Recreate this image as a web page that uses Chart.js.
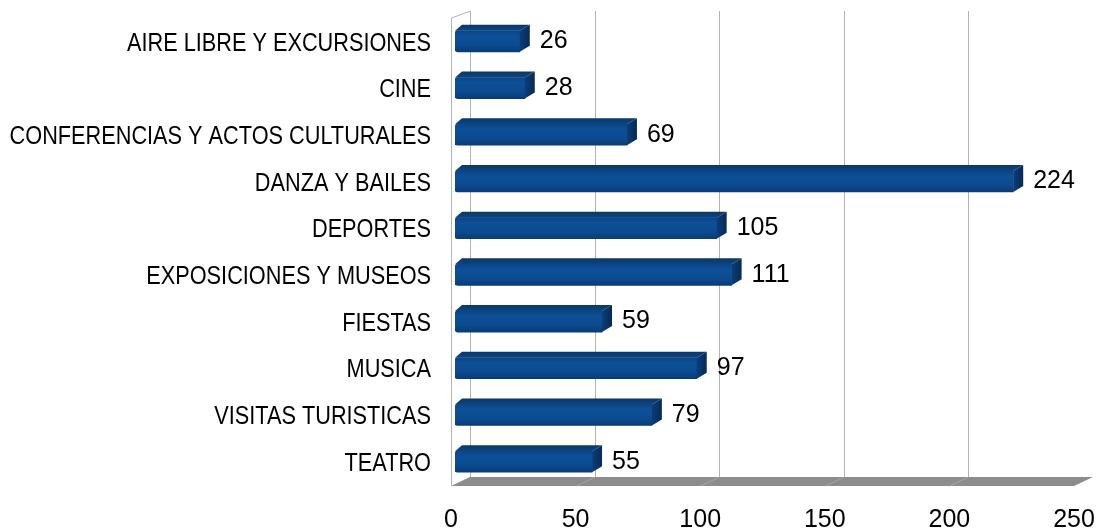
<!DOCTYPE html>
<html>
<head>
<meta charset="utf-8">
<script src="https://cdn.jsdelivr.net/npm/chart.js@4/dist/chart.umd.min.js"></script>
<style>
html,body{margin:0;padding:0;background:#fff;}
#wrap{width:1096px;height:530px;}
</style>
</head>
<body>
<div id="wrap"><canvas id="c" width="1096" height="530"></canvas></div>
<script>
const categories = [
  'AIRE LIBRE Y EXCURSIONES',
  'CINE',
  'CONFERENCIAS Y ACTOS CULTURALES',
  'DANZA Y BAILES',
  'DEPORTES',
  'EXPOSICIONES Y MUSEOS',
  'FIESTAS',
  'MUSICA',
  'VISITAS TURISTICAS',
  'TEATRO'
];
const values = [26, 28, 69, 224, 105, 111, 59, 97, 79, 55];
const xTicks = [0, 50, 100, 150, 200, 250];

const DEPTH_X = 10, DEPTH_Y = 6;        // bar depth
const BACK_DX = 15, FRONT_DX = -4;      // wall / floor offsets relative to bar scale
const GRID = '#b3b3b3';
const NARROW = 0.835;                   // horizontal condensing of category labels

function frontGradient(ctx, top, bottom) {
  const g = ctx.createLinearGradient(0, top, 0, bottom);
  g.addColorStop(0, '#0a4585');
  g.addColorStop(0.25, '#0d5098');
  g.addColorStop(0.7, '#0b4a8e');
  g.addColorStop(1, '#083c75');
  return g;
}

const scene3d = {
  id: 'scene3d',
  beforeDatasetsDraw(chart) {
    const {ctx, chartArea: a, scales: {x, y}} = chart;
    const fx = v => x.getPixelForValue(v) + FRONT_DX;
    const bx = v => x.getPixelForValue(v) + BACK_DX;
    const backTop = a.top - 7, frontTop = a.top;
    const floorBack = a.bottom - 8, floorFront = a.bottom + 1;
    ctx.save();
    // floor
    ctx.beginPath();
    ctx.moveTo(fx(0), floorFront);
    ctx.lineTo(bx(0), floorBack);
    ctx.lineTo(bx(250), floorBack);
    ctx.lineTo(fx(250), floorFront);
    ctx.closePath();
    ctx.fillStyle = '#8c8c8c';
    ctx.fill();
    ctx.lineWidth = 1;
    ctx.strokeStyle = '#a6a6a6';
    xTicks.slice(1, -1).forEach(v => {
      ctx.beginPath();
      ctx.moveTo(Math.round(bx(v)) + 0.5, floorBack);
      ctx.lineTo(Math.round(fx(v)) + 0.5, floorFront);
      ctx.stroke();
    });
    // back vertical gridlines
    ctx.strokeStyle = GRID;
    xTicks.slice(0, -1).forEach(v => {
      const px = Math.round(bx(v)) + 0.5;
      ctx.beginPath();
      ctx.moveTo(px, backTop);
      ctx.lineTo(px, floorBack);
      ctx.stroke();
    });
    // left wall front edge + top diagonal
    const lf = Math.round(fx(0)) + 0.5;
    ctx.beginPath();
    ctx.moveTo(lf, floorFront);
    ctx.lineTo(lf, frontTop);
    ctx.lineTo(Math.round(bx(0)) + 0.5, backTop);
    ctx.stroke();
    // category labels (condensed)
    ctx.fillStyle = '#000';
    ctx.font = '26px "Liberation Sans", Arial, sans-serif';
    ctx.textAlign = 'right';
    ctx.textBaseline = 'middle';
    categories.forEach((lab, i) => {
      ctx.save();
      ctx.translate(a.left - 24, y.getPixelForValue(i) + 2);
      ctx.scale(NARROW, 1);
      ctx.fillText(lab, 0, 0);
      ctx.restore();
    });
    ctx.restore();
  },
  afterDatasetsDraw(chart) {
    const {ctx} = chart;
    const meta = chart.getDatasetMeta(0);
    ctx.save();
    meta.data.forEach((bar, i) => {
      const p = bar.getProps(['x', 'y', 'base', 'height'], true);
      const x0 = p.base, x1 = p.x;
      const top = p.y - p.height / 2, bot = p.y + p.height / 2;
      // top face
      ctx.beginPath();
      ctx.moveTo(x0, top);
      ctx.lineTo(x0 + DEPTH_X * 0.7, top - DEPTH_Y);
      ctx.lineTo(x1 + DEPTH_X, top - DEPTH_Y);
      ctx.lineTo(x1, top);
      ctx.closePath();
      const gt = ctx.createLinearGradient(0, top - DEPTH_Y, 0, top);
      gt.addColorStop(0, '#0a3768');
      gt.addColorStop(1, '#0c4580');
      ctx.fillStyle = gt;
      ctx.fill();
      // side face
      ctx.beginPath();
      ctx.moveTo(x1, top);
      ctx.lineTo(x1 + DEPTH_X, top - DEPTH_Y);
      ctx.lineTo(x1 + DEPTH_X, bot - DEPTH_Y);
      ctx.lineTo(x1, bot);
      ctx.closePath();
      const gs = ctx.createLinearGradient(x1, 0, x1 + DEPTH_X, 0);
      gs.addColorStop(0, '#0a3e78');
      gs.addColorStop(1, '#072a55');
      ctx.fillStyle = gs;
      ctx.fill();
      // value label
      ctx.fillStyle = '#000';
      ctx.font = '25px "Liberation Sans", Arial, sans-serif';
      ctx.textAlign = 'left';
      ctx.textBaseline = 'middle';
      ctx.fillText(String(values[i]), x1 + DEPTH_X + 10, p.y);
    });
    ctx.restore();
  }
};

new Chart(document.getElementById('c'), {
  type: 'bar',
  data: {
    labels: categories,
    datasets: [{
      data: values,
      barThickness: 21,
      borderWidth: 0,
      borderRadius: {topLeft: 3, bottomLeft: 3, topRight: 0, bottomRight: 0},
      borderSkipped: false,
      backgroundColor(context) {
        const chart = context.chart;
        if (!chart.chartArea || context.dataIndex === undefined) return '#0b4a8c';
        const cy = chart.scales.y.getPixelForValue(context.dataIndex);
        return frontGradient(chart.ctx, cy - 10.5, cy + 10.5);
      }
    }]
  },
  options: {
    indexAxis: 'y',
    responsive: false,
    animation: false,
    devicePixelRatio: 1,
    layout: {padding: {top: 18, right: 18, bottom: 0, left: 0}},
    plugins: {legend: {display: false}, tooltip: {enabled: false}},
    scales: {
      x: {
        type: 'linear',
        min: 0,
        max: 250,
        afterBuildTicks(s) { s.ticks = xTicks.map(v => ({value: v})); },
        grid: {display: false, drawTicks: false},
        border: {display: false},
        ticks: {
          color: '#000',
          padding: 20,
          labelOffset: FRONT_DX,
          maxRotation: 0,
          font: {family: '"Liberation Sans", Arial, sans-serif', size: 25}
        },
        afterFit(s) { s.height = 45; s.paddingLeft = 0; s.paddingRight = 0; }
      },
      y: {
        grid: {display: false, drawTicks: false},
        border: {display: false},
        ticks: {display: false},
        afterFit(s) { s.width = 455; s.paddingTop = 0; s.paddingBottom = 0; }
      }
    }
  },
  plugins: [scene3d]
});
</script>
</body>
</html>
